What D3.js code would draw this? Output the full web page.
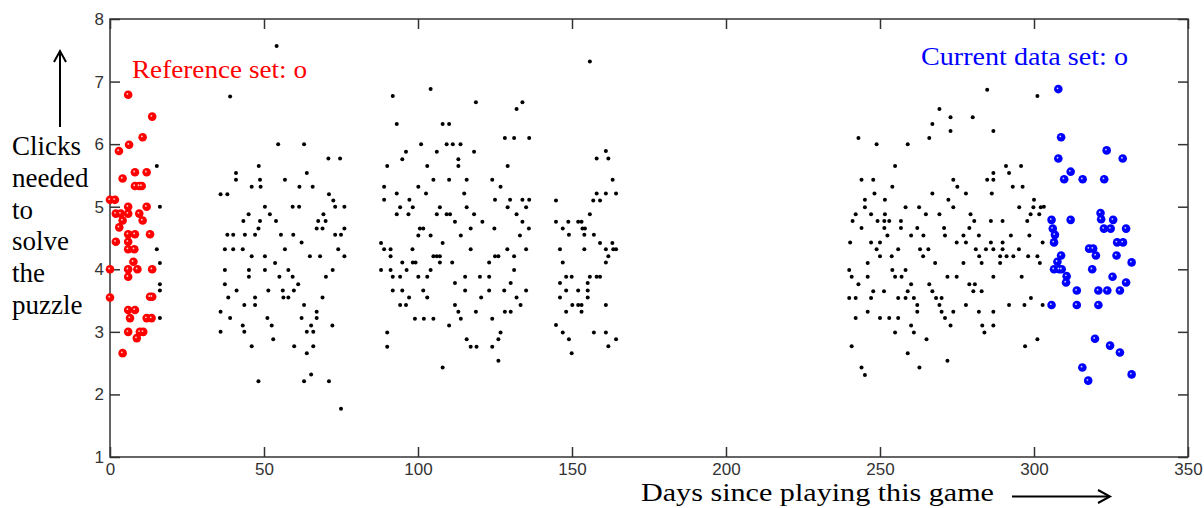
<!DOCTYPE html>
<html>
<head>
<meta charset="utf-8">
<script src="https://cdn.jsdelivr.net/npm/d3@7"></script>
<style>
  body { margin: 0; background: #fff; }
  svg { display: block; }
</style>
</head>
<body>
<div id="chart"></div>
<script>
// reference set (red): [day, clicks]
const refSet = [
  [5.9, 6.79], [13.7, 6.44], [10.6, 6.11], [6.2, 5.99], [2.9, 5.89],
  [8.1, 5.55], [11.9, 5.55], [4.1, 5.45], [8.1, 5.33], [9.5, 5.33], [10.3, 5.33],
  [0, 5.11], [1.6, 5.11], [5.9, 5.0], [11.9, 5.0],
  [1.9, 4.89], [3.5, 4.89], [5.9, 4.89], [9.5, 4.89], [4.1, 4.78], [10.6, 4.78],
  [3.0, 4.67], [5.9, 4.56], [8.1, 4.56], [13.0, 4.56], [1.9, 4.44], [5.9, 4.44],
  [5.9, 4.32], [7.9, 4.32], [7.6, 4.12], [0, 4.0], [5.9, 4.0], [8.9, 4.0], [13.7, 4.0],
  [5.9, 3.88], [0, 3.55], [13.0, 3.56], [13.7, 3.56], [5.9, 3.35], [8.1, 3.35],
  [6.5, 3.22], [11.9, 3.22], [13.5, 3.22], [5.9, 3.0], [9.7, 3.0], [10.8, 3.0],
  [8.7, 2.9], [4.1, 2.66]
]

// everything in between (black)
const pastDays = [
  [54.1, 7.57], [39.0, 6.76], [15.2, 5.65], [54.6, 6.0], [63.0, 6.0], [70.9, 5.77], [74.7, 5.77],
  [48.3, 5.65], [40.9, 5.54], [63.9, 5.54], [40.9, 5.43], [48.7, 5.43], [56.8, 5.43],
  [46.0, 5.32], [48.9, 5.32], [61.5, 5.32], [65.8, 5.32], [35.9, 5.2], [38.1, 5.2], [71.1, 5.2],
  [72.5, 5.1], [16.2, 5.0], [50.3, 5.0], [59.3, 5.0], [61.4, 5.0], [73.1, 5.0], [76.1, 5.0],
  [45.0, 4.88], [51.9, 4.88], [69.3, 4.88], [43.3, 4.77], [48.7, 4.77], [53.9, 4.77], [67.6, 4.77],
  [70.0, 4.77], [15.2, 4.32], [48.2, 4.65], [67.1, 4.65], [69.0, 4.65], [76.1, 4.65],
  [38.1, 4.55], [40.0, 4.55], [43.8, 4.55], [47.1, 4.55], [55.5, 4.55], [59.5, 4.55], [73.1, 4.55],
  [75.0, 4.55], [62.2, 4.43], [37.3, 4.32], [40.0, 4.32], [43.1, 4.32], [56.8, 4.32], [74.1, 4.32],
  [46.0, 4.21], [50.3, 4.21], [64.9, 4.21], [68.2, 4.21], [76.1, 4.21], [53.6, 4.1], [16.2, 4.1],
  [37.3, 3.99], [45.1, 3.99], [50.3, 3.99], [57.9, 3.99], [72.3, 3.99], [45.1, 3.88], [55.0, 3.88],
  [59.3, 3.88], [70.1, 3.88], [37.3, 3.76], [61.1, 3.76], [16.2, 3.76], [16.2, 3.66], [41.1, 3.66],
  [51.4, 3.66], [56.1, 3.66], [59.7, 3.66], [38.4, 3.55], [47.1, 3.55], [56.3, 3.55], [57.9, 3.55],
  [69.0, 3.55], [43.6, 3.43], [47.1, 3.43], [63.0, 3.43], [35.9, 3.32], [67.1, 3.32], [16.2, 3.22],
  [39.0, 3.22], [51.1, 3.22], [62.2, 3.22], [67.1, 3.22], [43.1, 3.1], [52.5, 3.1], [65.3, 3.1],
  [72.2, 3.1], [35.9, 3.0], [43.6, 3.0], [63.9, 3.0], [66.0, 3.0], [53.0, 2.88], [46.0, 2.77],
  [59.8, 2.77], [66.0, 2.77], [63.9, 2.66], [65.3, 2.32], [48.2, 2.21], [63.0, 2.21], [71.1, 2.21],
  [75.0, 1.77],

  [104.1, 6.88], [91.8, 6.77], [118.8, 6.67], [133.9, 6.67], [132.0, 6.56], [93.1, 6.32], [108.0, 6.32],
  [110.1, 6.32], [128.2, 6.1], [131.2, 6.1], [136.1, 6.1], [101.0, 6.0], [109.3, 6.0], [111.3, 6.0],
  [113.8, 6.0], [96.1, 5.88], [106.1, 5.88], [118.2, 5.88], [94.9, 5.76], [113.1, 5.76], [90.0, 5.65],
  [103.0, 5.65], [113.1, 5.65], [129.1, 5.65], [105.0, 5.43], [110.1, 5.43], [115.8, 5.43], [124.1, 5.43],
  [89.0, 5.32], [100.1, 5.32], [126.8, 5.32], [93.1, 5.21], [102.6, 5.21], [115.0, 5.21],
  [89.0, 5.11], [97.2, 5.11], [125.0, 5.11], [129.9, 5.11], [133.9, 5.11], [136.1, 5.11],
  [94.2, 4.99], [98.3, 4.99], [107.1, 4.99], [115.8, 4.99], [129.1, 4.99], [135.1, 4.99],
  [93.1, 4.88], [96.9, 4.88], [106.1, 4.88], [109.3, 4.88], [110.4, 4.88], [118.2, 4.88], [132.0, 4.88],
  [112.0, 4.76], [120.9, 4.76], [133.9, 4.76], [100.6, 4.65], [101.7, 4.65], [117.1, 4.65], [124.8, 4.65],
  [136.0, 4.65], [100.1, 4.54], [104.1, 4.54], [113.9, 4.54], [133.1, 4.54], [108.0, 4.42], [88.0, 4.42],
  [89.0, 4.32], [91.1, 4.32], [98.2, 4.32], [117.1, 4.32], [129.0, 4.32], [135.1, 4.32],
  [91.1, 4.21], [105.0, 4.21], [106.1, 4.21], [107.1, 4.21], [125.0, 4.21], [126.1, 4.21], [131.2, 4.21],
  [94.9, 4.11], [98.3, 4.11], [99.2, 4.11], [107.1, 4.11], [111.1, 4.11], [123.1, 4.11],
  [88.0, 3.99], [91.1, 3.99], [96.3, 3.99], [104.1, 3.99], [131.2, 3.99],
  [91.8, 3.88], [94.2, 3.88], [100.1, 3.88], [103.0, 3.88], [115.3, 3.88], [120.1, 3.88], [123.1, 3.88],
  [112.0, 3.78], [130.1, 3.78], [91.8, 3.66], [94.9, 3.66], [101.7, 3.66], [115.3, 3.66], [123.1, 3.66],
  [128.0, 3.66], [135.1, 3.66], [97.1, 3.55], [103.0, 3.55], [120.5, 3.55], [132.0, 3.55],
  [94.2, 3.43], [96.1, 3.43], [112.0, 3.43], [133.3, 3.43], [113.1, 3.32], [118.8, 3.32], [128.2, 3.32],
  [130.1, 3.32], [99.0, 3.21], [101.9, 3.21], [105.0, 3.21], [113.9, 3.21], [124.1, 3.21], [110.1, 3.1],
  [90.0, 2.99], [126.8, 2.99], [115.8, 2.88], [126.1, 2.88], [90.0, 2.76], [117.1, 2.76], [119.0, 2.76],
  [124.1, 2.76], [126.1, 2.54], [108.0, 2.43],

  [155.8, 7.32], [161.0, 5.89], [158.0, 5.77], [161.8, 5.77], [163.2, 5.43], [158.0, 5.21], [161.0, 5.21],
  [164.3, 5.21], [144.8, 5.1], [156.9, 5.1], [159.1, 5.1], [155.8, 4.88], [144.8, 4.76], [148.8, 4.76],
  [152.0, 4.76], [153.1, 4.76], [147.0, 4.65], [153.4, 4.65], [154.2, 4.65], [149.0, 4.55], [154.0, 4.55],
  [157.1, 4.55], [159.1, 4.42], [163.1, 4.42], [146.1, 4.32], [154.0, 4.32], [161.0, 4.32], [163.4, 4.32],
  [164.3, 4.32], [161.8, 4.21], [147.0, 4.11], [161.0, 4.11], [148.1, 3.88], [149.9, 3.88], [155.8, 3.88],
  [158.0, 3.88], [159.1, 3.88], [146.1, 3.78], [155.1, 3.78], [148.1, 3.66], [152.0, 3.66], [155.1, 3.66],
  [146.1, 3.55], [155.1, 3.55], [150.1, 3.43], [152.0, 3.43], [153.1, 3.43], [161.0, 3.43], [148.1, 3.32],
  [153.1, 3.32], [144.8, 3.11], [147.0, 2.99], [157.1, 2.99], [161.0, 2.99], [149.0, 2.88], [164.3, 2.88],
  [161.8, 2.77], [149.9, 2.66],

  [284.8, 6.87], [301.1, 6.77], [269.3, 6.56], [272.9, 6.43], [280.1, 6.43], [267.0, 6.32], [272.9, 6.21],
  [286.8, 6.21], [243.0, 6.1], [266.0, 6.1], [248.9, 6.0], [259.0, 6.0], [254.9, 5.65], [290.9, 5.65],
  [295.8, 5.65], [286.8, 5.54], [291.9, 5.54], [244.0, 5.43], [247.8, 5.43], [273.8, 5.43], [284.8, 5.43],
  [286.8, 5.43], [254.0, 5.32], [275.1, 5.32], [293.1, 5.32], [296.3, 5.32], [248.2, 5.21], [267.0, 5.21],
  [277.9, 5.21], [286.3, 5.21], [245.1, 5.11], [251.6, 5.11], [272.2, 5.11], [300.0, 5.11],
  [245.1, 4.99], [258.3, 4.99], [262.7, 4.99], [273.8, 4.99], [295.2, 4.99], [299.8, 4.99], [302.2, 4.99],
  [303.2, 5.0], [242.1, 4.88], [247.1, 4.88], [251.6, 4.88], [264.9, 4.88], [269.3, 4.88], [279.4, 4.88],
  [298.9, 4.88], [301.7, 4.88], [241.1, 4.77], [249.2, 4.77], [251.4, 4.77], [253.0, 4.77], [256.8, 4.77],
  [280.6, 4.77], [286.0, 4.77], [289.8, 4.77], [297.8, 4.77], [244.0, 4.66], [251.4, 4.66], [256.8, 4.66],
  [262.1, 4.66], [270.8, 4.66], [279.0, 4.66], [252.4, 4.54], [260.1, 4.54], [264.1, 4.54], [271.1, 4.54],
  [277.1, 4.54], [282.1, 4.54], [292.5, 4.54], [298.5, 4.54], [240.3, 4.43], [247.1, 4.43], [250.0, 4.43],
  [274.9, 4.43], [277.9, 4.43], [286.0, 4.43], [289.8, 4.43], [302.8, 4.43], [248.9, 4.32], [255.9, 4.32],
  [263.0, 4.32], [265.7, 4.32], [281.1, 4.32], [284.4, 4.32], [286.8, 4.32], [289.8, 4.32], [295.1, 4.32],
  [250.0, 4.21], [253.8, 4.21], [264.0, 4.21], [282.2, 4.21], [289.0, 4.21], [291.1, 4.21], [293.3, 4.21],
  [298.1, 4.21], [301.1, 4.21], [246.0, 4.1], [267.9, 4.1], [277.1, 4.1], [283.0, 4.1], [289.0, 4.1],
  [301.9, 4.1], [240.0, 3.99], [254.0, 3.99], [258.3, 3.99], [240.8, 3.88], [246.0, 3.88], [254.9, 3.88],
  [257.0, 3.88], [271.9, 3.88], [274.9, 3.88], [286.8, 3.88], [296.0, 3.88], [243.0, 3.76], [260.1, 3.76],
  [266.0, 3.76], [279.0, 3.76], [280.8, 3.76], [247.8, 3.65], [251.3, 3.65], [259.0, 3.65], [267.0, 3.65],
  [280.3, 3.65], [283.0, 3.65], [240.0, 3.54], [242.1, 3.54], [247.1, 3.54], [255.9, 3.54], [258.3, 3.54],
  [261.0, 3.54], [268.2, 3.54], [270.0, 3.54], [299.0, 3.54], [262.1, 3.43], [269.3, 3.43], [277.9, 3.43],
  [291.9, 3.43], [296.9, 3.43], [302.8, 3.43], [246.0, 3.32], [262.1, 3.32], [270.0, 3.32], [273.8, 3.32],
  [282.1, 3.32], [286.8, 3.32], [242.1, 3.22], [250.0, 3.22], [253.0, 3.22], [255.9, 3.22], [271.1, 3.22],
  [260.1, 3.1], [272.9, 3.1], [283.2, 3.1], [286.8, 3.1], [254.9, 2.99], [261.0, 2.99], [283.9, 2.99],
  [265.1, 2.88], [301.1, 2.88], [240.8, 2.77], [297.1, 2.77], [259.0, 2.66], [271.9, 2.54], [244.0, 2.43],
  [262.8, 2.43], [245.1, 2.31]
]

// current data set (blue)
const curSet = [
  [307.9, 6.88], [308.8, 6.11], [323.6, 5.9], [328.8, 5.77], [307.9, 5.77], [311.9, 5.56],
  [309.8, 5.44], [315.8, 5.44], [322.8, 5.44], [321.6, 4.9], [321.8, 4.8], [305.7, 4.79], [311.9, 4.79],
  [325.7, 4.79], [322.7, 4.65], [324.9, 4.65], [329.9, 4.65], [306.1, 4.65], [306.8, 4.55], [327.0, 4.43],
  [328.9, 4.43], [306.5, 4.43], [317.9, 4.33], [319.2, 4.33], [320.1, 4.22], [326.8, 4.22], [308.8, 4.22],
  [307.6, 4.12], [331.7, 4.11], [306.5, 4.0], [308.2, 4.0], [309.0, 4.0], [318.9, 4.0], [310.6, 3.89],
  [325.5, 3.88], [310.4, 3.79], [329.9, 3.79], [313.9, 3.66], [320.9, 3.66], [323.8, 3.66], [327.9, 3.66],
  [305.7, 3.43], [313.9, 3.43], [320.9, 3.43], [319.8, 2.89], [324.7, 2.78], [327.9, 2.67], [315.7, 2.43],
  [331.7, 2.32], [317.6, 2.22]
]

const xTicks = [0, 50, 100, 150, 200, 250, 300, 350]
const yTicks = [1, 2, 3, 4, 5, 6, 7, 8]
const yTitle = ['Clicks', 'needed', 'to', 'solve', 'the', 'puzzle']

const width = 1204
const height = 508
const margin = { top: 19, right: 16, bottom: 51, left: 110 }
const axisColor = '#333'

const svg = d3.select('#chart').append('svg')
  .attr('width', width)
  .attr('height', height)

const x = d3.scaleLinear().domain([0, 350]).range([margin.left, width - margin.right])
const y = d3.scaleLinear().domain([1, 8]).range([height - margin.bottom, margin.top])

const styleAxis = (g, showLabels) => {
  g.select('.domain').remove()
  g.selectAll('.tick line').attr('stroke', axisColor).attr('stroke-width', 1.5)
  g.selectAll('.tick text')
    .attr('fill', axisColor)
    .style('font-family', '"Liberation Sans", Arial, sans-serif')
    .style('font-size', '17px')
    .style('display', showLabels ? null : 'none')
}

svg.append('g')
  .attr('transform', `translate(0,${y(1)})`)
  .call(d3.axisBottom(x).tickValues(xTicks).tickFormat(d3.format('d')).tickSize(-10).tickPadding(6))
  .call(g => styleAxis(g, true))

svg.append('g')
  .attr('transform', `translate(0,${y(8)})`)
  .call(d3.axisTop(x).tickValues(xTicks).tickSize(-10))
  .call(g => styleAxis(g, false))

svg.append('g')
  .attr('transform', `translate(${x(0)},0)`)
  .call(d3.axisLeft(y).tickValues(yTicks).tickFormat(d3.format('d')).tickSize(-10).tickPadding(6))
  .call(g => styleAxis(g, true))

svg.append('g')
  .attr('transform', `translate(${x(350)},0)`)
  .call(d3.axisRight(y).tickValues(yTicks).tickSize(-10))
  .call(g => styleAxis(g, false))

// frame
svg.append('rect')
  .attr('x', x(0))
  .attr('y', y(8))
  .attr('width', x(350) - x(0))
  .attr('height', y(1) - y(8))
  .attr('fill', 'none')
  .attr('stroke', axisColor)
  .attr('stroke-width', 1.5)

// black points
svg.append('g').selectAll('circle')
  .data(pastDays)
  .enter()
  .append('circle')
  .attr('cx', d => x(d[0]))
  .attr('cy', d => y(d[1]))
  .attr('r', 2)
  .attr('fill', '#000')

const drawSet = (data, color) => {
  const g = svg.append('g')
  g.selectAll('circle.dot')
    .data(data)
    .enter()
    .append('circle')
    .attr('class', 'dot')
    .attr('cx', d => x(d[0]))
    .attr('cy', d => y(d[1]))
    .attr('r', 4.3)
    .attr('fill', color)
  g.selectAll('circle.hole')
    .data(data)
    .enter()
    .append('circle')
    .attr('class', 'hole')
    .attr('cx', d => x(d[0]) - 0.8)
    .attr('cy', d => y(d[1]) - 0.8)
    .attr('r', 0.9)
    .attr('fill', '#fff')
    .attr('opacity', 0.8)
}

drawSet(refSet, '#ff0000')
drawSet(curSet, '#0000ff')

const serif = '"Liberation Serif", "Times New Roman", serif'

svg.append('text')
  .attr('x', 132)
  .attr('y', 78)
  .attr('fill', '#ff0000')
  .style('font-family', serif)
  .style('font-size', '26px')
  .attr('textLength', 175)
  .attr('lengthAdjust', 'spacingAndGlyphs')
  .text('Reference set: o')

svg.append('text')
  .attr('x', 921)
  .attr('y', 65)
  .attr('fill', '#0000ff')
  .style('font-family', serif)
  .style('font-size', '26px')
  .attr('textLength', 207)
  .attr('lengthAdjust', 'spacingAndGlyphs')
  .text('Current data set: o')

svg.append('g').selectAll('text')
  .data(yTitle)
  .enter()
  .append('text')
  .attr('x', 12)
  .attr('y', (d, i) => 155 + i * 31.8)
  .attr('fill', '#000')
  .style('font-family', serif)
  .style('font-size', '27px')
  .text(d => d)

svg.append('text')
  .attr('x', 641)
  .attr('y', 501)
  .attr('fill', '#000')
  .style('font-family', serif)
  .style('font-size', '26px')
  .attr('textLength', 353)
  .attr('lengthAdjust', 'spacingAndGlyphs')
  .text('Days since playing this game')

// arrows
const arrows = svg.append('g')
  .attr('stroke', '#000')
  .attr('stroke-width', 2)
  .attr('fill', 'none')

arrows.append('line').attr('x1', 60).attr('y1', 127).attr('x2', 60).attr('y2', 51)
arrows.append('path').attr('d', 'M54,62 L60,51 L66,62')
arrows.append('line').attr('x1', 1012).attr('y1', 496.5).attr('x2', 1109).attr('y2', 496.5)
arrows.append('path').attr('d', 'M1098,490 L1110,496.5 L1098,503')
</script>
</body>
</html>
